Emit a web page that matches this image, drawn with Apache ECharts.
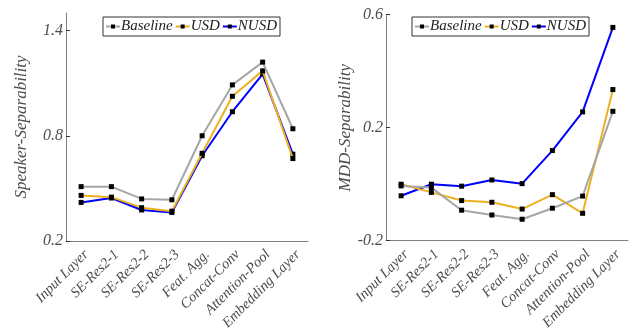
<!DOCTYPE html>
<html><head><meta charset="utf-8">
<script src="https://cdn.jsdelivr.net/npm/echarts@6/dist/echarts.min.js"></script>
<style>html,body{margin:0;padding:0;background:#fff}#c{width:630px;height:335px}</style>
</head><body><div id="c"></div>
<script>
const categories = ['Input Layer','SE-Res2-1','SE-Res2-2','SE-Res2-3','Feat. Agg.','Concat-Conv','Attention-Pool','Embedding Layer'];
const seriesNames = ['Baseline','USD','NUSD'];
const speakerBaseline = [0.51, 0.51, 0.44, 0.435, 0.80, 1.09, 1.22, 0.84];
const speakerUSD      = [0.46, 0.45, 0.39, 0.37, 0.70, 1.025, 1.17, 0.67];
const speakerNUSD     = [0.42, 0.445, 0.377, 0.363, 0.686, 0.937, 1.152, 0.695];
const mddBaseline = [-0.006, -0.012, -0.092, -0.109, -0.124, -0.085, -0.042, 0.258];
const mddUSD      = [0.0, -0.029, -0.058, -0.064, -0.088, -0.037, -0.103, 0.335];
const mddNUSD     = [-0.041, 0.0, -0.007, 0.015, 0.002, 0.119, 0.256, 0.555];
const speakerTicks = [0.2, 0.8, 1.4];
const mddTicks = [-0.2, 0.2, 0.6];

const colors = ['#a6a6a6', '#edb120', '#0000ff'];
const font = '"Liberation Serif", "Times New Roman", serif';
const axisCol = '#808080';
const txtCol = '#4d4d4d';

function mk(axisIdx, data){
  return data.map((d,i)=>({
    name: seriesNames[i], type:'line', xAxisIndex:axisIdx, yAxisIndex:axisIdx,
    data:d, symbol:'rect', symbolSize:5, showSymbol:true,
    lineStyle:{color:colors[i], width:2}, itemStyle:{color:'#000'},
    z: 10 - i, animation:false
  }));
}
function xAx(gi){
  return {type:'category', gridIndex:gi, data:categories, boundaryGap:true,
    axisLine:{onZero:false, lineStyle:{color:axisCol, width:1}},
    axisTick:{inside:true, alignWithLabel:true, length:4, lineStyle:{color:'#333'}},
    axisLabel:{rotate:45, interval:0, margin:6, verticalAlign:'top', fontFamily:font, fontStyle:'italic', fontSize:14.5, color:txtCol},
    splitLine:{show:false}};
}
function yAx(gi, min, max, ticks, name, gap){
  return {type:'value', gridIndex:gi, min:min, max:max,
    name:name, nameLocation:'middle', nameGap:gap, nameRotate:90,
    nameTextStyle:{fontFamily:font, fontStyle:'italic', fontSize:17, color:txtCol},
    axisLine:{show:true, onZero:false, lineStyle:{color:axisCol, width:1}},
    axisTick:{show:true, inside:true, length:4, customValues:ticks, lineStyle:{color:'#333'}},
    axisLabel:{customValues:ticks, fontFamily:font, fontStyle:'italic', fontSize:16, color:txtCol, margin:3},
    splitLine:{show:false}};
}
function legend(left, top){
  return {show:true, left:left, top:top, orient:'horizontal', data:seriesNames,
    itemWidth:14, itemHeight:5, itemGap:2, padding:[2,3,2,2],
    borderColor:'#333', borderWidth:1, backgroundColor:'#fff',
    textStyle:{fontFamily:font, fontStyle:'italic', fontSize:15, color:'#222', padding:[0,0,0,-4]},
    selectedMode:false};
}
const chart = echarts.init(document.getElementById('c'), null, {renderer:'canvas'});
chart.setOption({
  animation:false,
  grid:[{left:66, top:13, width:242, height:228},{left:386, top:14.7, width:242, height:226}],
  xAxis:[xAx(0), xAx(1)],
  yAxis:[yAx(0, 0.2, 1.5, speakerTicks, 'Speaker-Separability', 36), yAx(1, -0.2, 0.6, mddTicks, 'MDD-Separability', 24)],
  legend:[legend(103, 17), legend(412, 17)],
  series:[...mk(0,[speakerBaseline,speakerUSD,speakerNUSD]), ...mk(1,[mddBaseline,mddUSD,mddNUSD])]
});
</script></body></html>
